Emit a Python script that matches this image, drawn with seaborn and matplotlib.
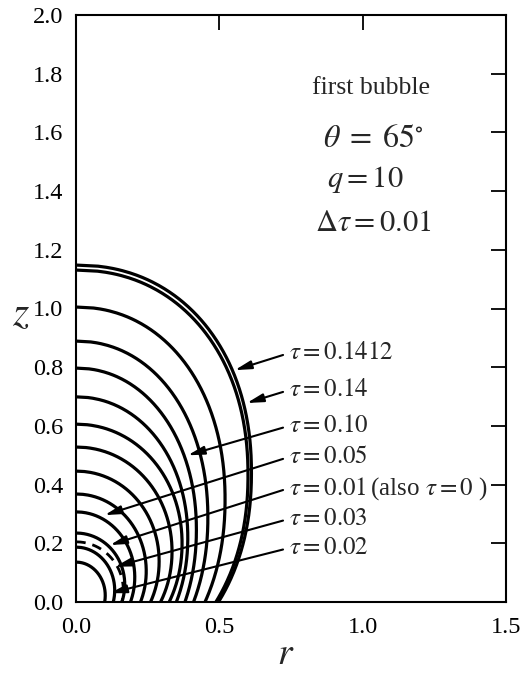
import numpy as np
import pandas as pd
import matplotlib
matplotlib.use("Agg")
import matplotlib.pyplot as plt
import seaborn as sns

sns.set_theme(style="white")
plt.rcParams["font.family"] = ["Liberation Serif", "DejaVu Serif"]
plt.rcParams["mathtext.fontset"] = "stix"

# Bubble profiles, innermost to outermost: height on the axis (r = 0),
# widest radius, and radius where the profile meets the wall (z = 0).
apex_z = [0.136, 0.187, 0.235, 0.307, 0.368, 0.446, 0.528, 0.606,
          0.699, 0.797, 0.889, 1.005, 1.131, 1.148]
max_r = [0.102, 0.135, 0.170, 0.205, 0.245, 0.290, 0.335, 0.370,
         0.390, 0.420, 0.460, 0.520, 0.600, 0.612]
base_r = [0.100, 0.130, 0.160, 0.190, 0.225, 0.260, 0.295, 0.325,
          0.350, 0.380, 0.410, 0.450, 0.488, 0.497]

# Initial profile (tau = 0), dashed
init_apex_z = 0.205
init_max_r = 0.165
init_base_r = 0.160

# Annotation labels, label anchor heights and the points the leaders touch
tau_labels = [r"$\tau = 0.1412$", r"$\tau = 0.14$", r"$\tau = 0.10$",
              r"$\tau = 0.05$", r"$\tau = 0.01\,$(also $\tau = 0$ )",
              r"$\tau = 0.03$", r"$\tau = 0.02$"]
label_z = [0.848, 0.722, 0.600, 0.494, 0.388, 0.283, 0.184]
target_r = [0.554, 0.596, 0.390, 0.100, 0.119, 0.136, 0.119]
target_z = [0.790, 0.678, 0.500, 0.296, 0.194, 0.120, 0.030]
label_r = 0.743


def profile(h, A, a, npts=300):
    """Rounded (superellipse) profile with apex h on the axis, widest
    radius A, cut by the wall z = 0 at radius a."""
    n = 2.0 + 0.15 * (h / 1.148) ** 2
    k = (max(0.0, 1.0 - (a / A) ** n)) ** (1.0 / n)
    B = h / (1.0 + k)
    c = k * B
    t = np.linspace(0.0, 1.0, npts)
    z = h - t * h
    u = np.clip(np.abs(z - c) / B, 0, 1)
    r = A * (1.0 - u ** n) ** (1.0 / n)
    return r, z


frames = []
for i, (h, A, a) in enumerate(zip(apex_z, max_r, base_r)):
    r, z = profile(h, A, a)
    frames.append(pd.DataFrame({"r": r, "z": z, "curve": i}))
curves = pd.concat(frames, ignore_index=True)

r0, z0 = profile(init_apex_z, init_max_r, init_base_r)
init_df = pd.DataFrame({"r": r0, "z": z0, "curve": 0})

fig = plt.figure(figsize=(5.22, 6.76), dpi=100)
ax = fig.add_axes([76 / 522, 74 / 676, 430 / 522, 587 / 676])

sns.lineplot(data=curves, x="r", y="z", units="curve", estimator=None,
             sort=False, color="black", lw=2.3, ax=ax)
sns.lineplot(data=init_df, x="r", y="z", estimator=None, sort=False,
             color="black", lw=2.0, ax=ax, linestyle=(0, (3.5, 2.5)))

for txt, lz, tr, tz in zip(tau_labels, label_z, target_r, target_z):
    ax.annotate(txt, xy=(tr, tz), xytext=(label_r, lz),
                ha="left", va="center", fontsize=18,
                arrowprops=dict(arrowstyle="-|>,head_length=0.55,head_width=0.14",
                                color="black", lw=1.5, shrinkA=2, shrinkB=0,
                                relpos=(0, 0.5)))

ax.text(1.03, 1.75, "first bubble", fontsize=18.5, ha="center", va="center")
ax.text(0.86, 1.575, r"$\theta\;=\;65^{\circ}$", fontsize=23, ha="left", va="center")
ax.text(0.875, 1.44, r"$q = 10$", fontsize=22, ha="left", va="center")
ax.text(0.835, 1.29, r"$\Delta\tau = 0.01$", fontsize=22, ha="left", va="center")

ax.set_xlim(0, 1.5)
ax.set_ylim(0, 2.0)
ax.set_xticks([0.0, 0.5, 1.0, 1.5])
ax.set_yticks(np.round(np.arange(0, 2.01, 0.2), 1))
ax.set_xticklabels(["0.0", "0.5", "1.0", "1.5"])
ax.set_yticklabels([f"{v:.1f}" for v in np.arange(0, 2.01, 0.2)])
ax.tick_params(direction="in", length=11, width=1.3, top=True, right=True,
               labelsize=17.5, colors="black")
ax.tick_params(axis="x", pad=11)
ax.tick_params(axis="y", pad=9)
for s in ax.spines.values():
    s.set_color("black")
    s.set_linewidth(1.5)

ax.set_xlabel(r"$r$", fontsize=27, va="center")
ax.xaxis.set_label_coords(0.487, -0.09)
ax.set_ylabel(r"$z$", fontsize=30, rotation=0, va="center", ha="center")
ax.yaxis.set_label_coords(-0.128, 0.49)

fig.savefig("out.png", dpi=100)
